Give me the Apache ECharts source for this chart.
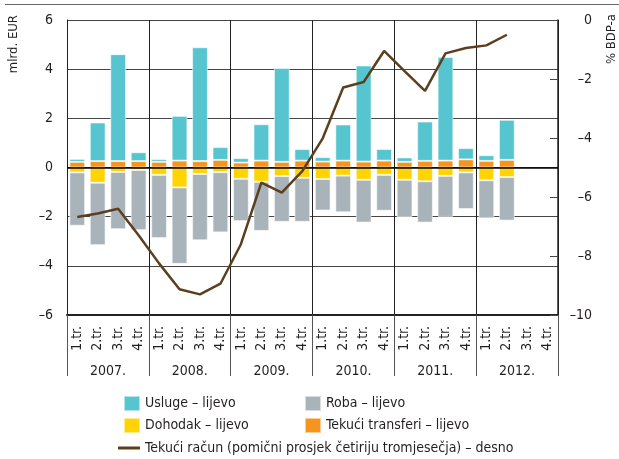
<!DOCTYPE html>
<html>
<head>
<meta charset="utf-8">
<script src="https://cdn.jsdelivr.net/npm/echarts@6/dist/echarts.min.js"></script>
<style>html,body{margin:0;padding:0;background:#fff}#c{width:619px;height:459px}</style>
</head>
<body>
<div id="c"></div>
<script>
var quarters = ['1.tr.','2.tr.','3.tr.','4.tr.','1.tr.','2.tr.','3.tr.','4.tr.','1.tr.','2.tr.','3.tr.','4.tr.','1.tr.','2.tr.','3.tr.','4.tr.','1.tr.','2.tr.','3.tr.','4.tr.','1.tr.','2.tr.','3.tr.','4.tr.'];
var years = ['2007.','2008.','2009.','2010.','2011.','2012.'];
var usluge = [0.12,1.57,4.35,0.36, 0.11,1.82,4.63,0.52, 0.18,1.48,3.82,0.47, 0.18,1.47,3.91,0.47, 0.18,1.60,4.21,0.46, 0.23,1.63,null,null];
var transferi = [0.23,0.26,0.26,0.26, 0.23,0.28,0.26,0.31, 0.20,0.28,0.23,0.28, 0.24,0.28,0.24,0.28, 0.23,0.27,0.28,0.33, 0.27,0.31,null,null];
var dohodak = [-0.20,-0.62,-0.18,-0.10, -0.30,-0.81,-0.26,-0.19, -0.46,-0.58,-0.35,-0.42, -0.47,-0.33,-0.50,-0.30, -0.50,-0.56,-0.34,-0.20, -0.52,-0.39,null,null];
var roba = [-2.17,-2.54,-2.33,-2.45, -2.57,-3.11,-2.70,-2.45, -1.72,-2.00,-1.86,-1.79, -1.28,-1.49,-1.74,-1.46, -1.53,-1.68,-1.67,-1.49, -1.55,-1.77,null,null];
var racun = [-6.68,-6.56,-6.40,-7.30, -8.25,-9.13,-9.30,-8.94, -7.60,-5.51,-5.85,-5.12, -4.01,-2.29,-2.10,-1.05, -1.73,-2.40,-1.13,-0.95, -0.86,-0.50,null,null];

var FONT = "'Liberation Sans Narrow','Arial Narrow','DejaVu Sans Condensed',sans-serif";
var TXT = '#231f20';
var N_USL = 'Usluge – lijevo', N_ROB = 'Roba – lijevo', N_DOH = 'Dohodak – lijevo', N_TRA = 'Tekući transferi – lijevo';
var N_RAC = 'Tekući račun (pomični prosjek četiriju tromjesečja) – desno';
function dash(v){ return String(v).replace('-', '–'); }
var border = {borderColor:'rgba(255,255,255,0.55)', borderWidth:1};

var chart = echarts.init(document.getElementById('c'), null, {renderer:'canvas'});
chart.setOption({
  animation:false,
  textStyle:{fontFamily:FONT, color:TXT},
  grid:{left:67, right:61, top:20, height:295},
  graphic:[
    {type:'line', shape:{x1:5,y1:4.5,x2:619,y2:4.5}, style:{stroke:'#666', lineWidth:1}},
    {type:'text', x:14, y:15, rotation:Math.PI/2, style:{text:'mlrd. EUR', font:'13px '+FONT, fill:TXT, align:'right', verticalAlign:'middle'}},
    {type:'text', x:612, y:14, rotation:Math.PI/2, style:{text:'% BDP-a', font:'13px '+FONT, fill:TXT, align:'right', verticalAlign:'middle'}}
  ],
  legend:[
    {data:[N_USL,N_DOH], orient:'vertical', left:118, top:390, itemWidth:16, itemHeight:15, itemGap:5, icon:'rect', textStyle:{fontSize:14, fontFamily:FONT, color:TXT}},
    {data:[N_ROB,N_TRA], orient:'vertical', left:299, top:390, itemWidth:16, itemHeight:15, itemGap:5, icon:'rect', textStyle:{fontSize:14, fontFamily:FONT, color:TXT}},
    {data:[N_RAC], left:113, top:436, itemWidth:22, itemHeight:3, icon:'rect', textStyle:{fontSize:14, fontFamily:FONT, color:TXT}}
  ],
  xAxis:[
    {type:'category', data:quarters, position:'bottom', axisLine:{show:false, onZero:false}, axisTick:{show:false},
     axisLabel:{rotate:90, margin:11, fontSize:14, color:TXT, interval:0}, splitLine:{show:false}},
    {type:'category', data:years, position:'bottom', axisLine:{show:true, onZero:false, lineStyle:{color:'#222', width:2}},
     axisTick:{show:true, length:61, lineStyle:{color:'#555', width:1}},
     axisLabel:{margin:49, fontSize:14, color:TXT}, splitLine:{show:true, lineStyle:{color:'#222', width:1}}}
  ],
  yAxis:[
    {type:'value', min:-6, max:6, interval:2, position:'left',
     axisLine:{show:true, lineStyle:{color:'#222', width:1}}, axisTick:{show:false},
     axisLabel:{formatter:dash, fontSize:14, color:TXT, margin:14},
     splitLine:{show:true, lineStyle:{color:'#444', width:1}}},
    {type:'value', min:-10, max:0, interval:2, position:'right',
     axisLine:{show:true, lineStyle:{color:'#222', width:1.5}},
     axisTick:{show:true, inside:true, length:8, lineStyle:{color:'#444'}},
     axisLabel:{formatter:dash, fontSize:14, color:TXT, margin:34, align:'right'},
     splitLine:{show:false}}
  ],
  series:[
    {name:N_TRA, type:'bar', stack:'a', data:transferi, barCategoryGap:'23%', itemStyle:Object.assign({color:'#f7941d'}, border),
     markLine:{silent:true, symbol:'none', label:{show:false}, lineStyle:{color:'#000', type:'solid', width:1.5}, data:[{yAxis:0}]}},
    {name:N_DOH, type:'bar', stack:'a', data:dohodak, itemStyle:Object.assign({color:'#ffd400'}, border)},
    {name:N_USL, type:'bar', stack:'a', data:usluge, itemStyle:Object.assign({color:'#56c5d0'}, border)},
    {name:N_ROB, type:'bar', stack:'a', data:roba, itemStyle:Object.assign({color:'#a9b4ba'}, border)},
    {name:N_RAC, type:'line', yAxisIndex:1, data:racun, symbol:'none', z:5, lineStyle:{color:'#5c3f1f', width:2.5}, itemStyle:{color:'#5c3f1f'}}
  ]
});
</script>
</body>
</html>
